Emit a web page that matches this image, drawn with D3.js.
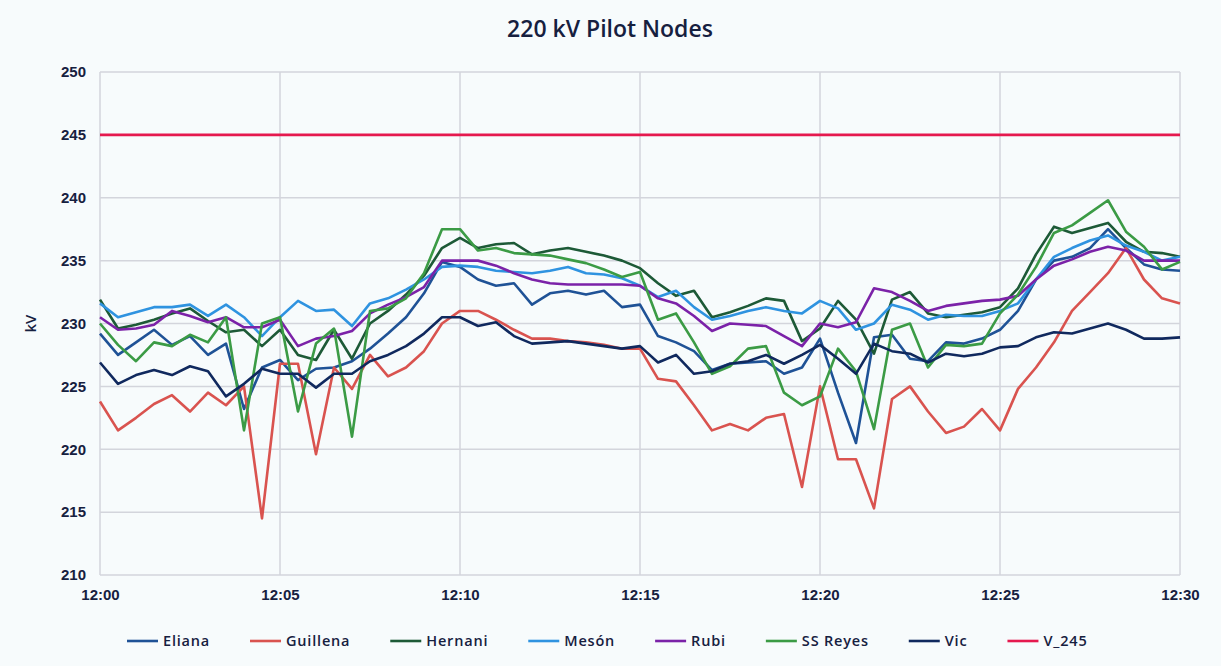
<!DOCTYPE html>
<html><head><meta charset="utf-8">
<script src="https://cdn.jsdelivr.net/npm/d3@7"></script>
<style>
body{margin:0;background:#f7fbfc;font-family:"Open Sans","Noto Sans",sans-serif;}
</style></head><body><div id="chart"></div>
<script>
// minutes after 12:00, sampled every 30 s
var minutes = d3.range(0, 30.01, 0.5);
var yTicks = [210, 215, 220, 225, 230, 235, 240, 245, 250];
var xTicks = [0, 5, 10, 15, 20, 25, 30];
var xTickLabels = ["12:00", "12:05", "12:10", "12:15", "12:20", "12:25", "12:30"];

var eliana = [229.2,227.5,228.5,229.5,228.3,229,227.5,228.4,223.2,226.5,227.1,225.5,226.4,226.5,227,228,229.2,230.5,232.4,234.9,234.5,233.5,233,233.2,231.5,232.4,232.6,232.3,232.6,231.3,231.5,229,228.5,227.8,226.3,226.8,226.9,227,226,226.5,228.8,224.5,220.5,228.9,229.1,227.2,227,228.5,228.4,228.8,229.5,231,233.5,235,235.3,236,237.5,236,234.7,234.3,234.2];
var guillena = [223.8,221.5,222.5,223.6,224.3,223,224.5,223.5,225,214.5,226.8,226.8,219.6,226.5,224.8,227.5,225.8,226.5,227.8,230,231,231,230.3,229.5,228.8,228.8,228.6,228.5,228.3,228,228,225.6,225.4,223.5,221.5,222,221.5,222.5,222.8,217,225,219.2,219.2,215.3,224,225,223,221.3,221.8,223.2,221.5,224.8,226.5,228.5,231,232.5,234,236,233.5,232,231.6];
var hernani = [231.9,229.6,229.9,230.3,230.8,231.2,230.2,229.3,229.5,228.2,229.5,227.5,227.1,229.5,227.2,230,231,232.3,233.8,236,236.8,236,236.3,236.4,235.5,235.8,236,235.7,235.4,235,234.4,233.2,232.2,232.6,230.5,230.9,231.4,232,231.8,228.6,229.6,231.8,230.3,227.6,231.9,232.5,230.8,230.5,230.7,230.9,231.3,232.8,235.5,237.7,237.2,237.6,238,236.5,235.7,235.6,235.3];
var meson = [231.6,230.5,230.9,231.3,231.3,231.5,230.6,231.5,230.5,229,230.5,231.8,231,231.1,229.8,231.6,232,232.7,233.5,234.5,234.6,234.5,234.2,234.1,234,234.2,234.5,234,233.9,233.6,233,232.1,232.6,231.3,230.3,230.6,231,231.3,231,230.8,231.8,231.2,229.5,230,231.5,231.1,230.3,230.7,230.6,230.6,231,231.6,233.5,235.3,236,236.6,237,236.2,235.7,235,235.3];
var rubi = [230.5,229.5,229.6,229.9,231,230.6,230.1,230.5,229.7,229.7,230.3,228.2,228.8,229,229.4,230.8,231.5,232.1,232.9,235,235,235,234.6,234,233.5,233.2,233.1,233.1,233.1,233.1,233,232,231.6,230.6,229.4,230,229.9,229.8,229,228.2,230,229.7,230.1,232.8,232.5,231.8,231,231.4,231.6,231.8,231.9,232.2,233.5,234.6,235.1,235.7,236.1,235.8,235,235,235];
var ssReyes = [230,228.3,227,228.5,228.2,229.1,228.5,230.5,221.5,230,230.5,223,228.4,229.6,221,231,231.2,232,234,237.5,237.5,235.8,236,235.6,235.5,235.4,235.1,234.8,234.3,233.7,234.1,230.3,230.8,228.5,226,226.6,228,228.2,224.5,223.5,224.2,228,226.2,221.6,229.5,230,226.5,228.3,228.2,228.4,230.8,232.3,234.5,237.2,237.8,238.8,239.8,237.3,236.1,234.3,234.9];
var vic = [226.9,225.2,225.9,226.3,225.9,226.6,226.2,224.2,225.2,226.4,226,226,224.9,226,226,227,227.5,228.2,229.2,230.5,230.5,229.8,230.1,229,228.4,228.5,228.6,228.4,228.2,228,228.2,226.9,227.5,226,226.2,226.8,227,227.5,226.8,227.5,228.3,227.2,226,228.4,227.8,227.6,226.9,227.6,227.4,227.6,228.1,228.2,228.9,229.3,229.2,229.6,230,229.5,228.8,228.8,228.9];
var v245 = minutes.map(function(){ return 245; });

var seriesNames = ["Eliana", "Guillena", "Hernani", "Mesón", "Rubi", "SS Reyes", "Vic", "V_245"];
var seriesValues = [eliana, guillena, hernani, meson, rubi, ssReyes, vic, v245];
var seriesColors = ["#1f5296", "#d9534f", "#1d5a37", "#2f93e0", "#7b22a8", "#3b9b45", "#10295e", "#e5194e"];

var width = 1221, height = 666;
var margin = {top: 72, right: 41, bottom: 91, left: 100};
var ink = "#16203f";

var svg = d3.select("#chart").append("svg")
    .attr("width", width).attr("height", height)
    .style("background", "#f7fbfc");

var x = d3.scaleLinear().domain([0, 30]).range([margin.left, width - margin.right]);
var y = d3.scaleLinear().domain([210, 250]).range([height - margin.bottom, margin.top]);

// grid
svg.append("g").selectAll("line.h").data(yTicks).enter().append("line")
    .attr("x1", x(0)).attr("x2", x(30))
    .attr("y1", function(d){ return y(d); }).attr("y2", function(d){ return y(d); })
    .attr("stroke", "#d3d5dc").attr("stroke-width", 1.5);
svg.append("g").selectAll("line.v").data(xTicks).enter().append("line")
    .attr("y1", y(210)).attr("y2", y(250))
    .attr("x1", function(d){ return x(d); }).attr("x2", function(d){ return x(d); })
    .attr("stroke", "#d3d5dc").attr("stroke-width", 1.5);

// axes
var yAxis = d3.axisLeft(y).tickValues(yTicks).tickSize(0).tickPadding(14);
var gy = svg.append("g").attr("transform", "translate(" + margin.left + ",0)").call(yAxis);
gy.select(".domain").remove();
gy.selectAll("text").attr("font-size", 15).attr("font-weight", 600).attr("fill", ink);

var xAxis = d3.axisBottom(x).tickValues(xTicks).tickSize(0).tickPadding(14)
    .tickFormat(function(d, i){ return xTickLabels[i]; });
var gx = svg.append("g").attr("transform", "translate(0," + y(210) + ")").call(xAxis);
gx.select(".domain").remove();
gx.selectAll("text").attr("font-size", 15).attr("font-weight", 600).attr("fill", ink);

svg.append("text")
    .attr("transform", "translate(36," + y(230) + ") rotate(-90)")
    .attr("text-anchor", "middle").attr("font-size", 15).attr("font-weight", 600).attr("fill", ink)
    .text("kV");

svg.append("text")
    .attr("x", 610).attr("y", 37)
    .attr("text-anchor", "middle").attr("font-size", 23).attr("font-weight", 600).attr("fill", ink)
    .text("220 kV Pilot Nodes");

// lines
var line = d3.line()
    .x(function(d, i){ return x(minutes[i]); })
    .y(function(d){ return y(d); });

svg.append("g").selectAll("path").data(seriesValues).enter().append("path")
    .attr("d", line)
    .attr("fill", "none")
    .attr("stroke", function(d, i){ return seriesColors[i]; })
    .attr("stroke-width", 2.6)
    .attr("stroke-linejoin", "round");

// legend
var legend = svg.append("g").attr("transform", "translate(0,641)");
var lx = 127;
seriesNames.forEach(function(name, i){
    var g = legend.append("g").attr("transform", "translate(" + lx + ",0)");
    g.append("line").attr("x1", 0).attr("x2", 31).attr("y1", 0).attr("y2", 0)
        .attr("stroke", seriesColors[i]).attr("stroke-width", 2.6);
    var t = g.append("text").attr("x", 36).attr("y", 5)
        .attr("font-size", 14.5).attr("font-weight", 600).attr("letter-spacing", 0.8)
        .attr("fill", ink).text(name);
    lx += 36 + t.node().getComputedTextLength() + 40;
});
</script></body></html>
